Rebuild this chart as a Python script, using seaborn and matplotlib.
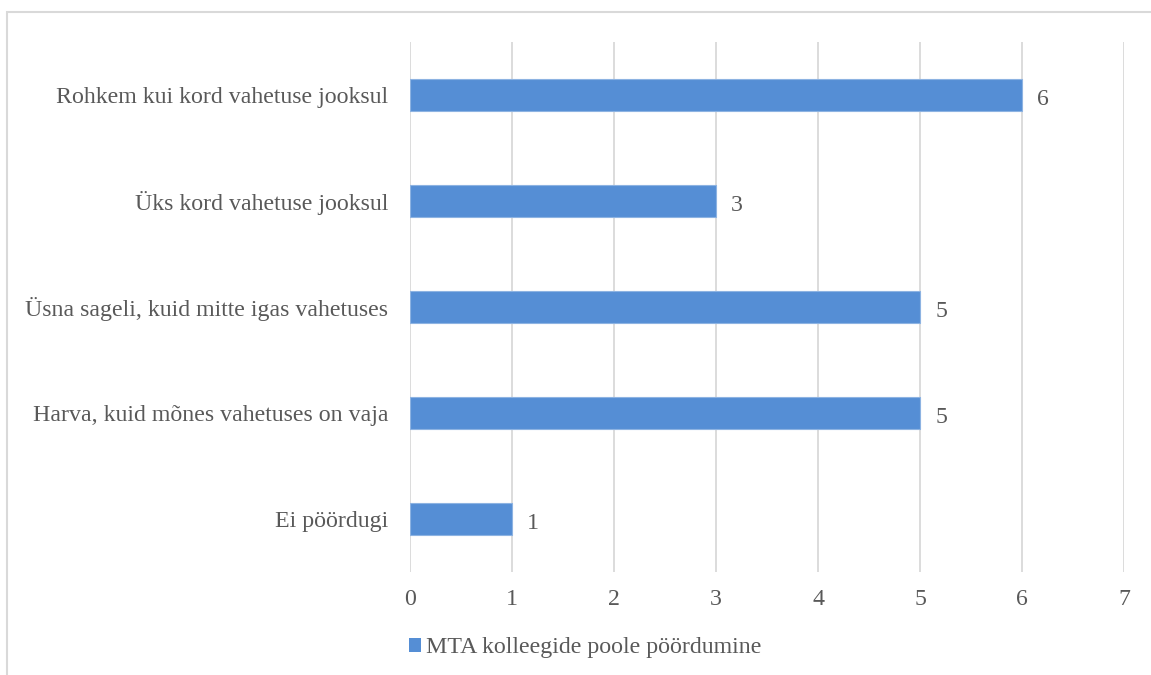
import matplotlib
matplotlib.use("Agg")
import matplotlib.pyplot as plt
import seaborn as sns
import pandas as pd
from matplotlib.patches import Rectangle

categories = [
    "Rohkem kui kord vahetuse jooksul",
    "Üks kord vahetuse jooksul",
    "Üsna sageli, kuid mitte igas vahetuses",
    "Harva, kuid mõnes vahetuses on vaja",
    "Ei pöördugi",
]
values = [6, 3, 5, 5, 1]
series_name = "MTA kolleegide poole pöördumine"
x_ticks = [0, 1, 2, 3, 4, 5, 6, 7]

sns.set_theme(style="white")
plt.rcParams["font.family"] = ["Liberation Serif", "DejaVu Serif"]

text_color = "#595959"
bar_color = "#558ED5"
grid_color = "#D9D9D9"
fs = 17.2

df = pd.DataFrame({"category": categories, "value": values, "series": series_name})

fig = plt.figure(figsize=(11.51, 6.75), dpi=100)
ax = fig.add_axes([0.3562, 0.1526, 0.6204, 0.7852])

sns.barplot(data=df, x="value", y="category", hue="series", palette=[bar_color],
            width=0.3, orient="h", ax=ax, legend=False,
            edgecolor="#8DB3E2", linewidth=0.8, saturation=1)

ax.set_xlim(0, 7)
ax.set_ylim(4.5, -0.5)
ax.set_xticks(x_ticks)
ax.set_xticklabels([str(t) for t in x_ticks])
ax.set_xlabel("")
ax.set_ylabel("")

ax.grid(axis="x", color=grid_color, linewidth=1.3)
ax.grid(axis="y", visible=False)
ax.set_axisbelow(True)
for s in ax.spines.values():
    s.set_visible(False)
ax.tick_params(axis="both", length=0, labelsize=fs, labelcolor=text_color)
ax.tick_params(axis="x", pad=12)
ax.tick_params(axis="y", pad=15.5)

for i, v in enumerate(values):
    ax.annotate(str(v), xy=(v, i), xytext=(11, -3), textcoords="offset points",
                ha="left", va="center", fontsize=fs, color=text_color)

# legend below the plot
handle = Rectangle((0, 0), 1, 1, facecolor=bar_color, edgecolor="none")
fig.legend([handle], [series_name], loc="center left",
           bbox_to_anchor=(0.347, 0.04), frameon=False, fontsize=fs,
           labelcolor=text_color, handlelength=0.5, handleheight=0.5,
           handletextpad=0.2, borderaxespad=0)

# chart-area border
fig.patches.append(Rectangle((7 / 1151, -0.05), 1.1, 1 - 12 / 675 + 0.05,
                             transform=fig.transFigure, fill=False,
                             edgecolor=grid_color, linewidth=1.5))

fig.savefig("out.png", dpi=100)
